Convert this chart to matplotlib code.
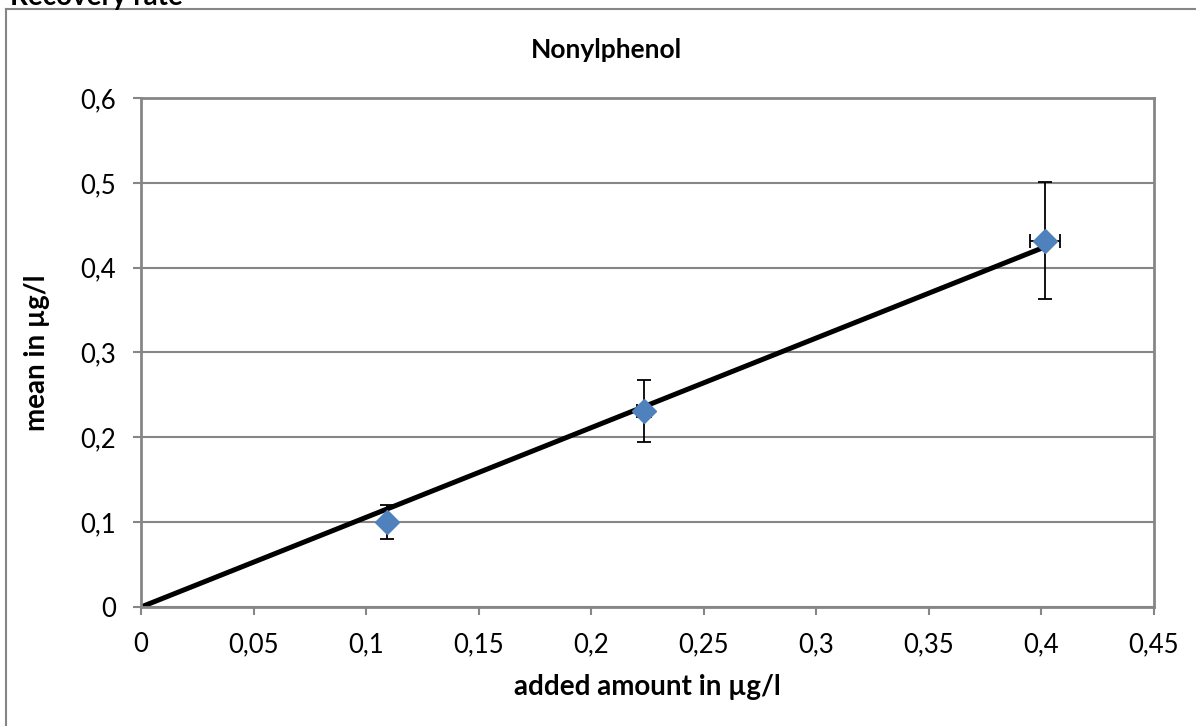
import numpy as np
import matplotlib.pyplot as plt
from matplotlib.lines import Line2D

plt.rcParams['font.family'] = ['Lato', 'DejaVu Sans']

# data
added = [0.1093, 0.2235, 0.4016]
mean = [0.1002, 0.231, 0.4316]
y_err = [0.020, 0.0365, 0.069]
x_err = [0.0, 0.003, 0.0068]
x_ticks = [0, 0.05, 0.1, 0.15, 0.2, 0.25, 0.3, 0.35, 0.4, 0.45]
x_tick_labels = ["0", "0,05", "0,1", "0,15", "0,2", "0,25", "0,3", "0,35", "0,4", "0,45"]
y_ticks = [0, 0.1, 0.2, 0.3, 0.4, 0.5, 0.6]
y_tick_labels = ["0", "0,1", "0,2", "0,3", "0,4", "0,5", "0,6"]

# linear trend through origin
x = np.array(added)
y = np.array(mean)
slope = np.sum(x * y) / np.sum(x * x)

fig = plt.figure(figsize=(11.96, 7.26), dpi=100)
ax = fig.add_axes([141 / 1196, 1 - 607 / 726, (1154 - 141) / 1196, (607 - 98) / 726])

gray = "#868686"
ax.set_xlim(0, 0.45)
ax.set_ylim(0, 0.6)
ax.set_yticks(y_ticks)
ax.set_yticklabels(y_tick_labels)
ax.set_xticks(x_ticks)
ax.set_xticklabels(x_tick_labels)
ax.yaxis.grid(True, color=gray, linewidth=1.5)
ax.set_axisbelow(True)
for s in ax.spines.values():
    s.set_color(gray)
    s.set_linewidth(2)
ax.tick_params(axis="both", direction="out", length=6, width=1.5, color=gray,
               labelsize=18.5)
ax.tick_params(axis="x", pad=12)
ax.tick_params(axis="y", pad=12)

ax.plot([0, x.max()], [0, slope * x.max()], color="black", linewidth=3.6, zorder=2)
ax.errorbar(added, mean, yerr=y_err, xerr=x_err, fmt="D", color="#4F81BD",
            markersize=12, ecolor="black", elinewidth=1.3, capsize=5, capthick=1.3,
            zorder=3)

# title is centred on the whole chart area, not the plot area
fig.text(606 / 1196, 1 - 50 / 726, "Nonylphenol", fontsize=19, fontweight="bold",
         ha="center", va="center")
ax.set_xlabel("added amount in µg/l", fontsize=20, fontweight="bold", labelpad=12)
ax.set_ylabel("mean in µg/l", fontsize=20, fontweight="bold", labelpad=22)

# chart area frame (top and left edges visible)
fig.add_artist(Line2D([6 / 1196, 1], [1 - 9 / 726, 1 - 9 / 726], color=gray, linewidth=1.5,
                      transform=fig.transFigure))
fig.add_artist(Line2D([6 / 1196, 6 / 1196], [0, 1 - 9 / 726], color=gray, linewidth=1.5,
                      transform=fig.transFigure))
fig.text(10 / 1196, 1 - 5 / 726, "Recovery rate", fontsize=20, fontweight="bold",
         va="baseline", ha="left")

fig.savefig("out.png", dpi=100)
